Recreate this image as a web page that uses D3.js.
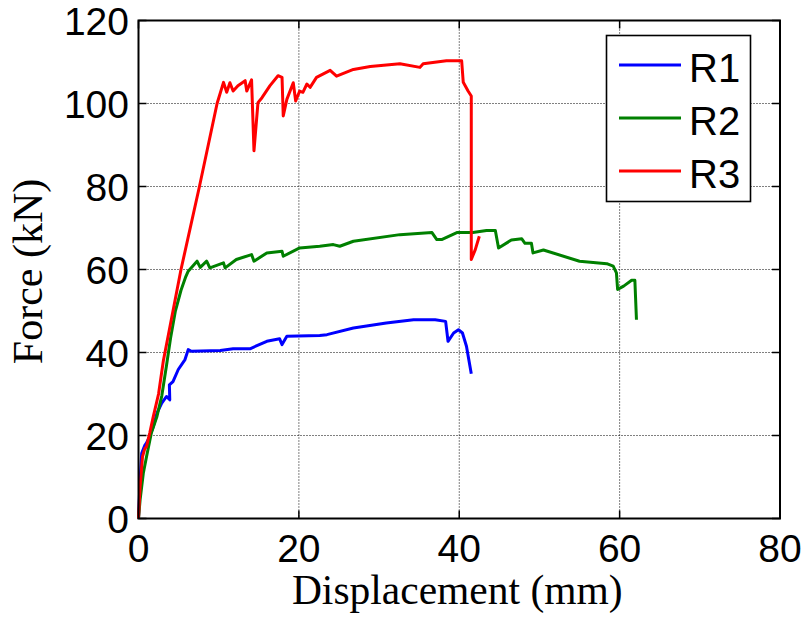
<!DOCTYPE html>
<html>
<head>
<meta charset="utf-8">
<script src="https://cdn.jsdelivr.net/npm/d3@7"></script>
<style>
  body { margin: 0; background: #fff; }
  svg { display: block; }
</style>
</head>
<body>
<svg id="chart" width="809" height="621"></svg>
<script>
// data: [displacement mm, force kN]
var seriesNames = ['R1', 'R2', 'R3'];
var seriesColors = ['#0000ff', '#008000', '#ff0000'];

var r1 = [
  [0, 0], [0.2, 9.3], [0.4, 15.7], [0.8, 17.7], [1.0, 18.2], [1.4, 19.8], [1.85, 22.2],
  [2.3, 25.4], [2.9, 27.8], [3.5, 29.4], [3.9, 28.6], [3.85, 32.2], [4.3, 33], [4.96, 35.9],
  [5.8, 38.3], [6.2, 40.7], [6.6, 40.3], [10.2, 40.5], [11.8, 40.9], [13.9, 40.9],
  [16.0, 42.7], [17.6, 43.3], [17.9, 41.9], [18.5, 43.9], [22.6, 44.1], [23.5, 44.3],
  [26.8, 45.9], [30.9, 47.1], [34.3, 47.9], [37.0, 47.9], [38.3, 47.5], [38.6, 42.7],
  [39.3, 44.7], [39.9, 45.5], [40.4, 44.7], [40.9, 41.5], [41.5, 34.9]
];

var r2 = [
  [0, 0], [0.2, 4.5], [0.6, 10.9], [1.0, 14.9], [1.6, 20.6], [2.3, 24.6], [2.9, 29.5],
  [3.5, 37], [4.0, 43.5], [4.6, 50], [5.3, 55], [5.9, 58.3], [6.2, 59.6], [7.3, 62],
  [7.7, 60.5], [8.5, 62], [8.9, 60.4], [10.6, 61.6], [10.8, 60.4], [12.2, 62.4],
  [14.1, 63.6], [14.4, 62], [16.0, 64], [17.9, 64.4], [18.05, 63.2], [20.1, 65.2],
  [22.6, 65.6], [24.3, 66], [25.1, 65.6], [26.8, 66.8], [32.6, 68.4], [36.6, 68.9],
  [37.2, 67.2], [37.8, 67.2], [39.7, 68.9], [41.7, 68.9], [43.4, 69.4], [44.5, 69.4],
  [44.9, 65.2], [46.5, 67.1], [47.8, 67.4], [48.2, 66.3], [49.0, 66.3], [49.2, 64],
  [50.5, 64.7], [55.0, 62], [58.4, 61.4], [59.2, 60.8], [59.6, 59.2], [59.75, 55.2],
  [60.5, 56], [61.5, 57.4], [61.9, 57.4], [62.1, 47.9]
];

var r3 = [
  [0, 0], [0.2, 7.7], [0.5, 14.9], [0.8, 16.9], [1.0, 17.3], [1.2, 19], [1.4, 20.6],
  [1.85, 24.6], [2.5, 30], [3.1, 38], [5.3, 60],
  [7.6, 80], [9.8, 100], [10.6, 105.1], [11.0, 102.7], [11.4, 105], [11.8, 103],
  [12.4, 104.3], [13.3, 105.5], [13.5, 103], [14.1, 105.7], [14.4, 88.6], [14.9, 100.2],
  [15.4, 101.4], [16.4, 104.3], [17.4, 106.7], [17.9, 106.3], [18.05, 97], [18.5, 101],
  [19.3, 105], [19.6, 100.6], [20.1, 103], [20.5, 102.7], [21.0, 104.7], [21.4, 103.9],
  [22.2, 106.3], [23.9, 108], [24.7, 106.6], [26.8, 108.2], [28.9, 108.9], [32.6, 109.6],
  [35.1, 108.7], [35.5, 109.6], [38.4, 110.3], [40.3, 110.3], [40.5, 105.1], [41.1, 103],
  [41.5, 101.8], [41.5, 62.4], [42.0, 64.8], [42.5, 68]
];
var allSeries = [r1, r2, r3];

var xTicks = [0, 20, 40, 60, 80];
var yTicks = [0, 20, 40, 60, 80, 100, 120];

var svg = d3.select('#chart');
var padL = 138.5, padR = 780, padT = 20.5, padB = 518.5;

var x = d3.scaleLinear().domain([0, 80]).range([padL, padR]);
var y = d3.scaleLinear().domain([0, 120]).range([padB, padT]);

// grid (dotted)
svg.append('g').selectAll('line').data(xTicks.slice(1, -1)).enter().append('line')
    .attr('x1', function (d) { return x(d); }).attr('x2', function (d) { return x(d); })
    .attr('y1', padT).attr('y2', padB)
    .attr('stroke', '#000').attr('stroke-width', 1).attr('stroke-dasharray', '1,2');
svg.append('g').selectAll('line').data(yTicks.slice(1, -1)).enter().append('line')
    .attr('y1', function (d) { return y(d); }).attr('y2', function (d) { return y(d); })
    .attr('x1', padL).attr('x2', padR)
    .attr('stroke', '#000').attr('stroke-width', 1).attr('stroke-dasharray', '1,2');

// inward ticks on all four sides
var tickLen = 8;
xTicks.forEach(function (d) {
    svg.append('line').attr('x1', x(d)).attr('x2', x(d)).attr('y1', padB).attr('y2', padB - tickLen)
        .attr('stroke', '#000').attr('stroke-width', 1.5);
    svg.append('line').attr('x1', x(d)).attr('x2', x(d)).attr('y1', padT).attr('y2', padT + tickLen)
        .attr('stroke', '#000').attr('stroke-width', 1.5);
});
yTicks.forEach(function (d) {
    svg.append('line').attr('y1', y(d)).attr('y2', y(d)).attr('x1', padL).attr('x2', padL + tickLen)
        .attr('stroke', '#000').attr('stroke-width', 1.5);
    svg.append('line').attr('y1', y(d)).attr('y2', y(d)).attr('x1', padR).attr('x2', padR - tickLen)
        .attr('stroke', '#000').attr('stroke-width', 1.5);
});

// lines
var line = d3.line()
    .x(function (d) { return x(d[0]); })
    .y(function (d) { return y(d[1]); });

svg.append('g').selectAll('path').data(allSeries).enter().append('path')
    .attr('d', line)
    .attr('fill', 'none')
    .attr('stroke', function (d, i) { return seriesColors[i]; })
    .attr('stroke-width', 3)
    .attr('stroke-linejoin', 'round');

// frame
svg.append('rect')
    .attr('x', padL).attr('y', padT)
    .attr('width', padR - padL).attr('height', padB - padT)
    .attr('fill', 'none').attr('stroke', '#000').attr('stroke-width', 2);

// tick labels
svg.append('g').selectAll('text').data(xTicks).enter().append('text')
    .attr('x', function (d) { return x(d); })
    .attr('y', 562)
    .attr('text-anchor', 'middle')
    .style('font', '39px Arial, "Liberation Sans", sans-serif')
    .text(function (d) { return d; });
svg.append('g').selectAll('text').data(yTicks).enter().append('text')
    .attr('x', 129)
    .attr('y', function (d) { return y(d) + 14; })
    .attr('text-anchor', 'end')
    .style('font', '39px Arial, "Liberation Sans", sans-serif')
    .text(function (d) { return d; });

// axis titles
svg.append('text')
    .attr('x', (padL + padR) / 2 - 2).attr('y', 604)
    .attr('text-anchor', 'middle')
    .style('font', '41.5px "Times New Roman", "Liberation Serif", serif')
    .text('Displacement (mm)');
svg.append('text')
    .attr('transform', 'translate(42,' + ((padT + padB) / 2 + 2) + ') rotate(-90)')
    .attr('text-anchor', 'middle')
    .style('font', '42px "Times New Roman", "Liberation Serif", serif')
    .text('Force (kN)');

// legend
var legend = svg.append('g');
legend.append('rect')
    .attr('x', 606.5).attr('y', 35.5).attr('width', 144).attr('height', 166)
    .attr('fill', '#fff').attr('stroke', '#000').attr('stroke-width', 1.6);
seriesNames.forEach(function (name, i) {
    var ly = 65 + i * 53;
    legend.append('line')
        .attr('x1', 619).attr('x2', 681).attr('y1', ly).attr('y2', ly)
        .attr('stroke', seriesColors[i]).attr('stroke-width', 3);
    legend.append('text')
        .attr('x', 689).attr('y', ly + 17)
        .style('font', '40px Arial, "Liberation Sans", sans-serif')
        .text(name);
});
</script>
</body>
</html>
